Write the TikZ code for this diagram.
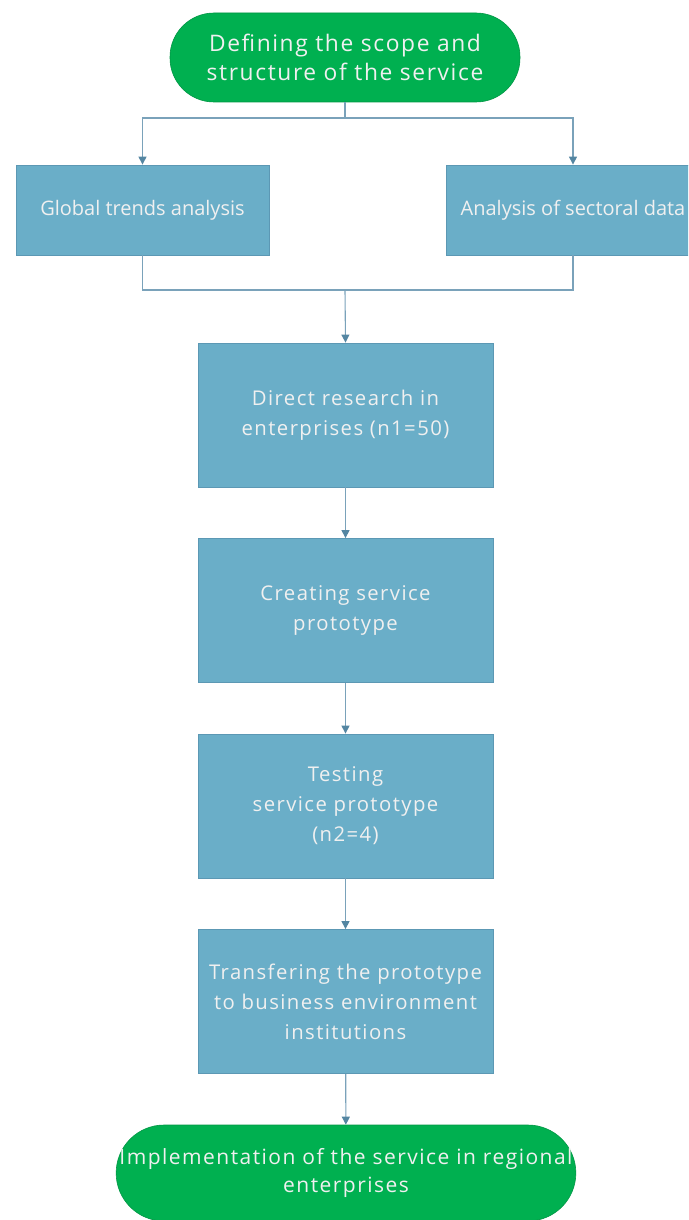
\documentclass[tikz,border=0pt]{standalone}
\usepackage{fontspec}
\setmainfont{Open Sans}
\usetikzlibrary{arrows.meta, positioning}

\definecolor{termgreen}{RGB}{0,176,80}
\definecolor{boxblue}{RGB}{106,174,200}
\definecolor{boxedge}{RGB}{92,152,180}
\definecolor{linkblue}{RGB}{122,162,186}
\definecolor{tipblue}{RGB}{84,134,162}

\begin{document}
\begin{tikzpicture}[x=1pt,y=1pt,->,>={Triangle[width=8pt,length=8pt,color=tipblue]},
  line width=1.1pt,node distance=195.5pt,
  term node/.style={rectangle,rounded corners=44pt,fill=termgreen,draw=termgreen!85!black,
    line width=0.6pt,text=white!94!black,align=center,
    font=\fontsize{21}{28}\selectfont\addfontfeatures{LetterSpace=7}},
  main node/.style={rectangle,fill=boxblue,draw=boxedge,line width=0.8pt,
    minimum width=295pt,minimum height=144pt,text=white!94!black,align=center,
    font=\fontsize{20.3}{30}\selectfont\addfontfeatures{LetterSpace=7}},
  side node/.style={main node,minimum width=253pt,minimum height=90pt,
    font=\fontsize{20}{26}\selectfont}]
  \clip (0,0) rectangle (688,-1220);

  \node[term node, minimum width=350pt, minimum height=89pt,
    font=\fontsize{22.8}{29}\selectfont\addfontfeatures{LetterSpace=7}] (scope) at (345,-57.5)
    {Defining the scope and\\structure of the service};
  \node[side node] (global) at (142.5,-210) {Global trends analysis};
  \node[side node] (sector) at (573,-210) {Analysis of sectoral data};
  \node[main node] (research) at (345.5,-415) {Direct research in\\enterprises (n1=50)};
  \node[main node] (create) [below of=research] {Creating service\\prototype};
  \node[main node] (test) [below of=create] {Testing\\service prototype\\(n2=4)};
  \node[main node] (transfer) [below of=test]
    {Transfering the prototype\\to business environment\\institutions};
  \node[term node, minimum width=458pt, minimum height=96pt, rounded corners=48pt] (impl)
    at (346,-1173) {Implementation of the service in regional\\enterprises};

  \coordinate (split) at (345,-118);
  \coordinate (merge) at (345,-290);

  \draw[linkblue,-] (scope.south) -- (split);
  \draw[linkblue] (split) -| (global.north);
  \draw[linkblue] (split) -| (sector.north);
  \draw[linkblue,-] (global.south) |- (merge);
  \draw[linkblue,-] (sector.south) |- (merge);
  \draw[linkblue] (merge) -- (research.north);
  \draw[linkblue] (research) -- (create);
  \draw[linkblue] (create) -- (test);
  \draw[linkblue] (test) -- (transfer);
  \draw[linkblue] (transfer) -- (impl);
\end{tikzpicture}
\end{document}
